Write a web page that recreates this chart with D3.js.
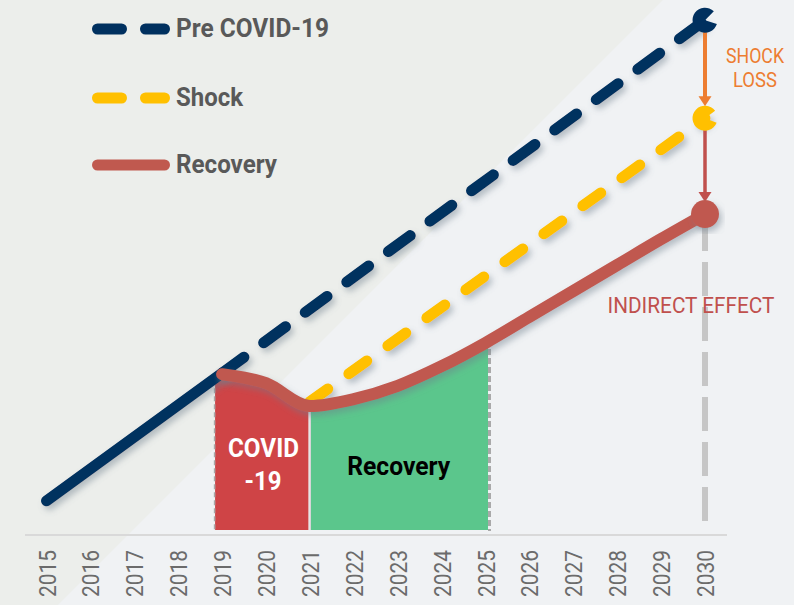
<!DOCTYPE html>
<html>
<head>
<meta charset="utf-8">
<script src="https://cdn.jsdelivr.net/npm/d3@7"></script>
<style>
  body { margin: 0; background: #f0f2f4; }
  svg { display: block; font-family: Roboto, "Noto Sans", sans-serif; }
</style>
</head>
<body>
<svg id="chart" width="794" height="605"></svg>
<script>
// tick labels
const tickYears = [2015, 2016, 2017, 2018, 2019, 2020, 2021, 2022,
                   2023, 2024, 2025, 2026, 2027, 2028, 2029, 2030];

// Pre COVID-19 trend (solid part and dashed projection)
const preSolidYears = [2015, 2019];
const preSolidValues = [5.5, 29.6];
const preDashYears = [2019, 2030];
const preDashValues = [29.6, 96.2];

// Shock trend
const shockYears = [2021, 2030];
const shockValues = [24.2, 77.7];

// Recovery trend
const recoveryYears = [2019, 2020, 2021, 2022, 2023, 2024, 2025, 2026, 2027, 2028, 2029, 2030];
const recoveryValues = [29.4, 27.7, 23.4, 24.7, 27.2, 30.9, 35.3, 40.2, 45.1, 50.0, 54.9, 59.6];

// shaded periods
const periodNames = ["COVID|-19", "Recovery"];
const periodStarts = [2018.84, 2021];
const periodEnds = [2021, 2025];
const periodColors = ["#cf4446", "#5bc68c"];
const periodTextColors = ["#ffffff", "#000000"];

// legend
const legendLabels = ["Pre COVID-19", "Shock", "Recovery"];
const legendColors = ["#00305f", "#ffc000", "#c0594f"];
const legendDashed = [true, true, false];

let svg = d3.select("#chart");
let width = +svg.attr("width");
let height = +svg.attr("height");

let x = d3.scaleLinear().domain([2015, 2030]).range([46.5, 705]);
let y = d3.scaleLinear().domain([0, 100]).range([530, 0]);

// shadow filter
let defs = svg.append("defs");
let f = defs.append("filter").attr("id", "shadow")
    .attr("x", "-20%").attr("y", "-20%").attr("width", "140%").attr("height", "140%");
f.append("feDropShadow")
    .attr("dx", 3).attr("dy", 4).attr("stdDeviation", 3)
    .attr("flood-color", "#6e7f8c").attr("flood-opacity", 0.45);

// background with diagonal band
svg.append("rect").attr("width", width).attr("height", height).attr("fill", "#f0f2f4");
svg.append("path")
    .attr("d", "M0,0 L663,0 L58,605 L0,605 Z")
    .attr("fill", "#eceeeb");

// shaded periods (area under recovery curve)
let recData = recoveryYears.map((yr, i) => ({ year: yr, v: recoveryValues[i] }));
let areaData = [{ year: 2018.8, v: recoveryValues[0] }].concat(recData);
let area = d3.area()
    .x(d => x(d.year))
    .y0(y(0))
    .y1(d => y(d.v))
    .curve(d3.curveMonotoneX);

periodNames.forEach((name, i) => {
    let x0 = x(periodStarts[i]) + (i === 0 ? 0 : 1);
    let x1 = x(periodEnds[i]) - (i === 0 ? 1.5 : -2.5);
    defs.append("clipPath").attr("id", "clip" + i)
        .append("rect").attr("x", x0).attr("y", 0)
        .attr("width", x1 - x0).attr("height", height);
    svg.append("path")
        .datum(areaData)
        .attr("d", area)
        .attr("fill", periodColors[i])
        .attr("clip-path", "url(#clip" + i + ")");
});

// dashed borders of the shaded periods
let recAt = yr => recoveryValues[recoveryYears.indexOf(yr)];
svg.append("line")
    .attr("x1", x(periodStarts[0]) - 0.5).attr("x2", x(periodStarts[0]) - 0.5)
    .attr("y1", y(recAt(2019)) + 6).attr("y2", y(0))
    .attr("stroke", "#a9a9a9").attr("stroke-width", 1.5)
    .attr("stroke-dasharray", "5 3");
svg.append("line")
    .attr("x1", x(2021) + 0.3).attr("x2", x(2021) + 0.3)
    .attr("y1", y(recAt(2021)) + 6).attr("y2", y(0))
    .attr("stroke", "#c8c8c8").attr("stroke-width", 1);
svg.append("line")
    .attr("x1", x(2025) + 4).attr("x2", x(2025) + 4)
    .attr("y1", y(recAt(2025)) + 6).attr("y2", y(0) + 1)
    .attr("stroke", "#a9a9a9").attr("stroke-width", 3)
    .attr("stroke-dasharray", "6 3");

// period labels
periodNames.forEach((name, i) => {
    let cx = (x(periodStarts[i]) + x(periodEnds[i])) / 2;
    let lines = name.split("|");
    let t = svg.append("text")
        .attr("text-anchor", "middle")
        .attr("font-size", 26)
        .attr("font-weight", "bold")
        .attr("fill", periodTextColors[i]);
    if (lines.length === 2) {
        t.append("tspan").attr("x", cx + 1).attr("y", 457).text(lines[0])
            .attr("textLength", 71).attr("lengthAdjust", "spacingAndGlyphs");
        t.append("tspan").attr("x", cx + 0.5).attr("y", 490).text(lines[1])
            .attr("textLength", 37).attr("lengthAdjust", "spacingAndGlyphs");
    } else {
        t.attr("x", cx + 1).attr("y", 475).text(name)
            .attr("textLength", 103).attr("lengthAdjust", "spacingAndGlyphs");
    }
});

// x axis
svg.append("line")
    .attr("x1", 25).attr("x2", 727)
    .attr("y1", 535).attr("y2", 535)
    .attr("stroke", "#d9d9d9").attr("stroke-width", 2);

let xAxis = d3.axisBottom(x)
    .tickValues(tickYears)
    .tickFormat(d3.format("d"))
    .tickSize(0);

let gx = svg.append("g").attr("transform", "translate(0,535)").call(xAxis);
gx.select(".domain").remove();
gx.selectAll("text")
    .attr("transform", "rotate(-90)")
    .attr("x", -15)
    .attr("y", 8.5)
    .attr("dy", null)
    .attr("text-anchor", "end")
    .attr("font-family", "Roboto, sans-serif")
    .attr("font-size", 23)
    .attr("fill", "#6b6b6b")
    .attr("textLength", 47)
    .attr("lengthAdjust", "spacingAndGlyphs");

// vertical dashed guide at 2030
svg.append("line")
    .attr("x1", x(2030)).attr("x2", x(2030))
    .attr("y1", 521).attr("y2", 218)
    .attr("stroke", "#c6c6c6").attr("stroke-width", 6)
    .attr("stroke-dasharray", "34 11");

let line = d3.line()
    .x(d => x(d.year))
    .y(d => y(d.v));

let toPts = (yrs, vals) => yrs.map((yr, i) => ({ year: yr, v: vals[i] }));

// Pre COVID-19
svg.append("path")
    .datum(toPts(preSolidYears, preSolidValues))
    .attr("d", line)
    .attr("fill", "none").attr("stroke", legendColors[0])
    .attr("stroke-width", 11).attr("stroke-linecap", "round")
    .attr("filter", "url(#shadow)");
svg.append("path")
    .datum(toPts(preDashYears, preDashValues))
    .attr("d", line)
    .attr("fill", "none").attr("stroke", legendColors[0])
    .attr("stroke-width", 11).attr("stroke-linecap", "round")
    .attr("stroke-dasharray", "27 24.5")
    .attr("filter", "url(#shadow)");

// Shock
svg.append("path")
    .datum(toPts(shockYears, shockValues))
    .attr("d", line)
    .attr("fill", "none").attr("stroke", legendColors[1])
    .attr("stroke-width", 11).attr("stroke-linecap", "round")
    .attr("stroke-dasharray", "22 26")
    .attr("filter", "url(#shadow)");

// Recovery
svg.append("path")
    .datum(recData)
    .attr("d", line.curve(d3.curveMonotoneX))
    .attr("fill", "none").attr("stroke", legendColors[2])
    .attr("stroke-width", 12).attr("stroke-linecap", "round")
    .attr("filter", "url(#shadow)");

// arrows at 2030
let ax = x(2030);
let preEnd = y(preDashValues[1]);
let shockEnd = y(shockValues[1]);
let recEnd = y(recoveryValues[recoveryValues.length - 1]);

function arrow(y1, y2, color, w, headW, headH) {
    svg.append("line")
        .attr("x1", ax).attr("x2", ax)
        .attr("y1", y1).attr("y2", y2 - headH + 2)
        .attr("stroke", color).attr("stroke-width", w);
    svg.append("path")
        .attr("d", `M${ax - headW / 2},${y2 - headH} L${ax + headW / 2},${y2 - headH} L${ax},${y2} Z`)
        .attr("fill", color);
}
arrow(preEnd + 12, shockEnd - 12, "#ed7d31", 4, 13, 10);
arrow(shockEnd + 12, recEnd - 12, "#c0504d", 3.5, 13, 10);

// end markers
let arc = d3.arc().innerRadius(0);
svg.append("path")
    .attr("transform", `translate(${ax},${preEnd})`)
    .attr("d", arc.outerRadius(12.5).startAngle(Math.PI * 0.6).endAngle(Math.PI * 2.25)())
    .attr("fill", legendColors[0]);
svg.append("path")
    .attr("transform", `translate(${ax},${shockEnd})`)
    .attr("d", arc.outerRadius(12.5).startAngle(Math.PI * 0.62).endAngle(Math.PI * 2.3)())
    .attr("fill", legendColors[1]);
svg.append("circle")
    .attr("cx", ax).attr("cy", recEnd).attr("r", 14)
    .attr("fill", legendColors[2])
    .attr("filter", "url(#shadow)");

// annotations
let shock = svg.append("text")
    .attr("text-anchor", "middle")
    .attr("font-size", 21)
    .attr("fill", "#ed7d31");
shock.append("tspan").attr("x", 755).attr("y", 63).text("SHOCK")
    .attr("textLength", 58).attr("lengthAdjust", "spacingAndGlyphs");
shock.append("tspan").attr("x", 755).attr("y", 87).text("LOSS")
    .attr("textLength", 44).attr("lengthAdjust", "spacingAndGlyphs");

svg.append("text")
    .attr("x", 691).attr("y", 313)
    .attr("text-anchor", "middle")
    .attr("font-size", 22)
    .attr("fill", "#c0504d")
    .attr("textLength", 167).attr("lengthAdjust", "spacingAndGlyphs")
    .text("INDIRECT EFFECT");

// legend
let legendBase = [37, 106, 173];
let legendWidths = [153, 67, 101];
legendLabels.forEach((label, i) => {
    let ly = legendBase[i] - 8;
    svg.append("line")
        .attr("x1", 97.5).attr("x2", 164.5)
        .attr("y1", ly).attr("y2", ly)
        .attr("stroke", legendColors[i])
        .attr("stroke-width", 11)
        .attr("stroke-linecap", "round")
        .attr("stroke-dasharray", legendDashed[i] ? "24 24" : null);
    svg.append("text")
        .attr("x", 176).attr("y", legendBase[i])
        .attr("font-size", 26)
        .attr("font-weight", "bold")
        .attr("fill", "#595959")
        .attr("textLength", legendWidths[i])
        .attr("lengthAdjust", "spacingAndGlyphs")
        .text(label);
});
</script>
</body>
</html>
